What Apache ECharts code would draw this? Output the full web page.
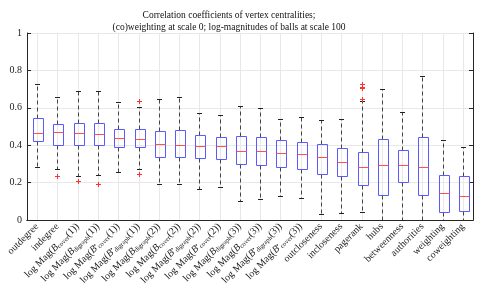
<!DOCTYPE html>
<html>
<head>
<meta charset="utf-8">
<script src="https://cdn.jsdelivr.net/npm/echarts@6/dist/echarts.min.js"></script>
<style>html,body{margin:0;padding:0;background:#fff}#c{width:479px;height:299px}</style>
</head>
<body>
<div id="c"></div>
<script>
const categories = ['outdegree','indegree',
 'log Mag(B_{cover}(1))','log Mag(B_{digraph}(1))','log Mag(B^_{cover}(1))','log Mag(B^_{digraph}(1))',
 'log Mag(B_{digraph}(2))','log Mag(B_{cover}(2))','log Mag(B^_{digraph}(2))','log Mag(B^_{cover}(2))',
 'log Mag(B_{digraph}(3))','log Mag(B_{cover}(3))','log Mag(B^_{digraph}(3))','log Mag(B^_{cover}(3))',
 'outcloseness','incloseness','pagerank','hubs','betweenness','authorities','weighting','coweighting'];
const whiskerLow  = [0.283,0.275,0.233,0.243,0.259,0.272,0.194,0.190,0.167,0.176,0.103,0.112,0.128,0.117,0.034,0.039,0.043,0,0,0,0,0];
const q1          = [0.421,0.400,0.400,0.400,0.391,0.393,0.339,0.336,0.329,0.325,0.302,0.293,0.286,0.272,0.245,0.235,0.187,0.133,0.203,0.133,0.044,0.046];
const medians     = [0.466,0.471,0.467,0.460,0.437,0.434,0.407,0.403,0.395,0.395,0.368,0.371,0.357,0.352,0.336,0.309,0.283,0.293,0.295,0.283,0.142,0.130];
const q3          = [0.544,0.512,0.521,0.517,0.489,0.485,0.478,0.480,0.457,0.446,0.451,0.443,0.428,0.418,0.405,0.386,0.366,0.434,0.373,0.444,0.242,0.233];
const whiskerHigh = [0.725,0.658,0.691,0.691,0.629,0.603,0.645,0.658,0.571,0.560,0.608,0.597,0.542,0.553,0.535,0.540,0.635,0.699,0.579,0.768,0.427,0.391];
const outlierCat  = [1,2,3,5,5,16,16,16,16];
const outlierVal  = [0.233,0.206,0.194,0.638,0.245,0.649,0.704,0.713,0.729];
const yTicks = [0,0.2,0.4,0.6,0.8,1];

const FONT = 'Liberation Serif';
const boxData = categories.map((c,i)=>[i, whiskerLow[i], q1[i], medians[i], q3[i], whiskerHigh[i]]);
const outData = outlierCat.map((c,i)=>[c, outlierVal[i]]);
const px = v => Math.round(v) + 0.5;

function fmtLabel(s){
  return s.replace(/B(\^)?_\{(\w+)\}/, (m, star, sub) =>
    '{i|B}' + (star ? '{sup|•}' : '') + '{sub|' + sub + '}');
}

const chart = echarts.init(document.getElementById('c'), null, {renderer:'canvas'});
const axisCol = '#262626';
chart.setOption({
  animation:false,
  title:{
    text:'Correlation coefficients of vertex centralities;\n(co)weighting at scale 0; log-magnitudes of balls at scale 100',
    left:224, top:4, textAlign:'center',
    textStyle:{fontFamily:FONT, fontSize:9.5, fontWeight:'normal', color:'#111', lineHeight:12.5}
  },
  grid:{left:27, right:6, top:33, bottom:79, containLabel:false},
  xAxis:[{
    type:'category', data:categories, position:'bottom', boundaryGap:true,
    axisLine:{lineStyle:{color:axisCol, width:1}},
    axisTick:{inside:true, alignWithLabel:true, length:4, lineStyle:{color:axisCol}},
    axisLabel:{interval:0, rotate:45, margin:5, fontFamily:FONT, fontSize:10, color:'#222',
      formatter: v => fmtLabel(v),
      rich:{
        i:{fontFamily:FONT, fontStyle:'italic', fontSize:10, color:'#222'},
        sub:{fontFamily:FONT, fontSize:6.5, color:'#222', verticalAlign:'bottom', padding:[4,0,0,0]},
        sup:{fontFamily:FONT, fontSize:6.5, color:'#222', verticalAlign:'top', padding:[0,0,4,0]}
      }},
    splitLine:{show:false}
  },{
    type:'category', data:categories, position:'top', boundaryGap:true,
    axisLine:{lineStyle:{color:axisCol, width:1}},
    axisTick:{inside:true, alignWithLabel:true, length:4, lineStyle:{color:axisCol}},
    axisLabel:{show:false}, splitLine:{show:false}
  }],
  yAxis:[{
    type:'value', min:0, max:1, interval:0.2, position:'left',
    axisLine:{show:true, lineStyle:{color:axisCol, width:1}},
    axisTick:{show:true, inside:true, length:4, lineStyle:{color:axisCol}},
    axisLabel:{fontFamily:FONT, fontSize:10, color:'#222', margin:5,
      formatter: v => { const t = yTicks.find(x=>Math.abs(x-v)<1e-9); return t===undefined ? '' : String(t); }},
    splitLine:{show:true, lineStyle:{color:'#e8e8e8', width:1}}
  },{
    type:'value', min:0, max:1, interval:0.2, position:'right',
    axisLine:{show:true, lineStyle:{color:axisCol, width:1}},
    axisTick:{show:true, inside:true, length:4, lineStyle:{color:axisCol}},
    axisLabel:{show:false}, splitLine:{show:false}
  }],
  series:[{
    type:'custom', xAxisIndex:0, yAxisIndex:0, data:boxData, clip:false,
    renderItem:(params, api)=>{
      const i = api.value(0);
      const band = api.size([1,0])[0];
      const cx = px(api.coord([i,0])[0]);
      const yTop = api.coord([i,1])[1], yBot = api.coord([i,0])[1];
      const yLo = px(api.coord([i,api.value(1)])[1]);
      const yQ1 = px(api.coord([i,api.value(2)])[1]);
      const yMed = px(api.coord([i,api.value(3)])[1]);
      const yQ3 = px(api.coord([i,api.value(4)])[1]);
      const yHi = px(api.coord([i,api.value(5)])[1]);
      const bw = Math.round(band*0.5), cw = Math.round(band*0.26);
      const bx = Math.round(cx - bw/2) + 0.5;
      const wStyle = {stroke:'#444', lineWidth:1, lineDash:[4,3]};
      return {type:'group', children:[
        {type:'line', shape:{x1:cx,y1:yTop,x2:cx,y2:yBot}, style:{stroke:'#e8e8e8', lineWidth:1}},
        {type:'line', shape:{x1:cx,y1:yQ3,x2:cx,y2:yHi}, style:wStyle},
        {type:'line', shape:{x1:cx,y1:yQ1,x2:cx,y2:yLo}, style:wStyle},
        {type:'line', shape:{x1:cx-cw/2,y1:yHi,x2:cx+cw/2,y2:yHi}, style:{stroke:'#222', lineWidth:1}},
        {type:'line', shape:{x1:cx-cw/2,y1:yLo,x2:cx+cw/2,y2:yLo}, style:{stroke:'#222', lineWidth:1}},
        {type:'rect', shape:{x:bx, y:yQ3, width:bw, height:yQ1-yQ3}, style:{fill:'none', stroke:'#5a5aff', lineWidth:1}},
        {type:'line', shape:{x1:bx,y1:yMed,x2:bx+bw,y2:yMed}, style:{stroke:'#ff5050', lineWidth:1}}
      ]};
    }
  },{
    type:'custom', xAxisIndex:0, yAxisIndex:0, data:outData, z:5,
    renderItem:(params, api)=>{
      const p = api.coord([api.value(0), api.value(1)]);
      const x = px(p[0]), y = px(p[1]), r = 2.5;
      return {type:'group', children:[
        {type:'line', shape:{x1:x-r,y1:y,x2:x+r,y2:y}, style:{stroke:'#ff3030', lineWidth:1}},
        {type:'line', shape:{x1:x,y1:y-r,x2:x,y2:y+r}, style:{stroke:'#ff3030', lineWidth:1}}
      ]};
    }
  }]
});
</script>
</body>
</html>
